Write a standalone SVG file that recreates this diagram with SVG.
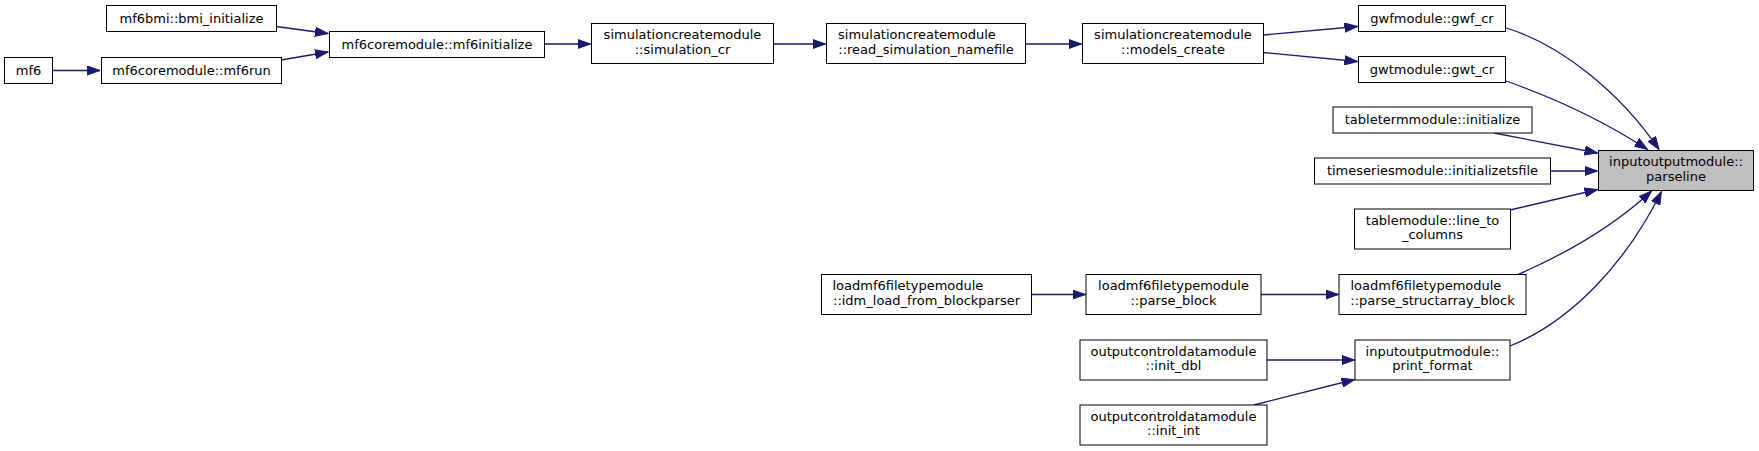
<svg xmlns="http://www.w3.org/2000/svg" width="1759" height="451" viewBox="0 0 1759 451">
<style>
.n rect{fill:#ffffff;stroke:#000000;stroke-width:1}
.n.root rect{fill:#bfbfbf}
.n text{font-family:"DejaVu Sans","Liberation Sans",sans-serif;font-size:13px;fill:#000000}
.c{text-anchor:middle}
.s{text-anchor:start}
#edges path{fill:none;stroke:#191970;stroke-width:1.3;marker-end:url(#arr)}
</style>
<defs>
<marker id="arr" markerUnits="userSpaceOnUse" markerWidth="14" markerHeight="10" refX="13" refY="5" orient="auto">
<path d="M0,0.4 L13,5 L0,9.6 z" fill="#191970" stroke="#191970" stroke-width="1"/>
</marker>
</defs>
<rect width="1759" height="451" fill="#ffffff"/>
<g id="edges">
<path d="M52.5,70.5 L100,70.5"/>
<path d="M276,26.5 L328,33.5"/>
<path d="M281,60 L328,52"/>
<path d="M544,44 L590.5,44"/>
<path d="M773.5,44 L825.5,44"/>
<path d="M1025.5,44 L1081.5,44"/>
<path d="M1263.5,35 L1357.5,26.5"/>
<path d="M1263.5,52.5 L1357.5,61.5"/>
<path d="M1506,28 C1560,44 1620,92 1659,149.5"/>
<path d="M1506,81 C1560,100 1610,125 1647.5,149.5"/>
<path d="M1494,133 L1597.5,153"/>
<path d="M1551,171 L1597.5,171"/>
<path d="M1510,210 L1597.5,189.5"/>
<path d="M1518,274.5 C1565,254 1615,225 1651.5,191"/>
<path d="M1510,346 C1570,322 1625,265 1661.5,191.5"/>
<path d="M1032,294.5 L1085.5,294.5"/>
<path d="M1261,294.5 L1338.5,294.5"/>
<path d="M1267,360 L1354.5,360"/>
<path d="M1254,405 L1354.5,379.5"/>
</g>
<g id="node-mf6" class="n"><rect x="4.5" y="57.5" width="48" height="26"/><text class="c" x="28.5" y="74.8">mf6</text></g>
<g id="node-bmi_initialize" class="n"><rect x="106.5" y="5.5" width="170" height="26"/><text class="c" x="191.5" y="22.8">mf6bmi::bmi_initialize</text></g>
<g id="node-mf6run" class="n"><rect x="101.5" y="57.5" width="180" height="26"/><text class="c" x="191.5" y="74.8">mf6coremodule::mf6run</text></g>
<g id="node-mf6initialize" class="n"><rect x="329.5" y="31.5" width="215" height="26"/><text class="c" x="437" y="48.8">mf6coremodule::mf6initialize</text></g>
<g id="node-simulation_cr" class="n"><rect x="591.5" y="23.5" width="182" height="40"/><text class="c" x="682.5" y="39">simulationcreatemodule</text><text class="c" x="682.5" y="53.5">::simulation_cr</text></g>
<g id="node-read_simulation_namefile" class="n"><rect x="826.5" y="23.5" width="199" height="40"/><text class="s" x="838" y="39">simulationcreatemodule</text><text class="c" x="926" y="53.5">::read_simulation_namefile</text></g>
<g id="node-models_create" class="n"><rect x="1082.5" y="23.5" width="181" height="40"/><text class="c" x="1173" y="39">simulationcreatemodule</text><text class="c" x="1173" y="53.5">::models_create</text></g>
<g id="node-gwf_cr" class="n"><rect x="1358.5" y="5.5" width="147" height="26"/><text class="c" x="1432" y="22.8">gwfmodule::gwf_cr</text></g>
<g id="node-gwt_cr" class="n"><rect x="1358.5" y="56.5" width="147" height="26"/><text class="c" x="1432" y="73.8">gwtmodule::gwt_cr</text></g>
<g id="node-tableterm_initialize" class="n"><rect x="1333" y="107" width="199" height="26"/><text class="c" x="1432.5" y="124.3">tabletermmodule::initialize</text></g>
<g id="node-initializetsfile" class="n"><rect x="1314.5" y="158" width="236" height="26"/><text class="c" x="1432.5" y="175.3">timeseriesmodule::initializetsfile</text></g>
<g id="node-line_to_columns" class="n"><rect x="1354.5" y="209" width="156" height="40"/><text class="c" x="1432.5" y="224.5">tablemodule::line_to</text><text class="c" x="1432.5" y="239">_columns</text></g>
<g id="node-idm_load_from_blockparser" class="n"><rect x="821.5" y="274.5" width="210" height="40"/><text class="s" x="832.5" y="290">loadmf6filetypemodule</text><text class="c" x="926.5" y="304.5">::idm_load_from_blockparser</text></g>
<g id="node-parse_block" class="n"><rect x="1086" y="274.5" width="175" height="40"/><text class="c" x="1173.5" y="290">loadmf6filetypemodule</text><text class="c" x="1173.5" y="304.5">::parse_block</text></g>
<g id="node-parse_structarray_block" class="n"><rect x="1339" y="274.5" width="187" height="40"/><text class="s" x="1350.5" y="290">loadmf6filetypemodule</text><text class="c" x="1432.5" y="304.5">::parse_structarray_block</text></g>
<g id="node-init_dbl" class="n"><rect x="1080" y="340" width="187" height="40"/><text class="c" x="1173.5" y="355.5">outputcontroldatamodule</text><text class="c" x="1173.5" y="370">::init_dbl</text></g>
<g id="node-init_int" class="n"><rect x="1080" y="405" width="187" height="40"/><text class="c" x="1173.5" y="420.5">outputcontroldatamodule</text><text class="c" x="1173.5" y="435">::init_int</text></g>
<g id="node-print_format" class="n"><rect x="1355" y="340" width="155" height="40"/><text class="c" x="1432.5" y="355.5">inputoutputmodule::</text><text class="c" x="1432.5" y="370">print_format</text></g>
<g id="node-parseline" class="n root"><rect x="1598.5" y="150.5" width="155" height="40"/><text class="c" x="1676" y="166">inputoutputmodule::</text><text class="c" x="1676" y="180.5">parseline</text></g>
</svg>
